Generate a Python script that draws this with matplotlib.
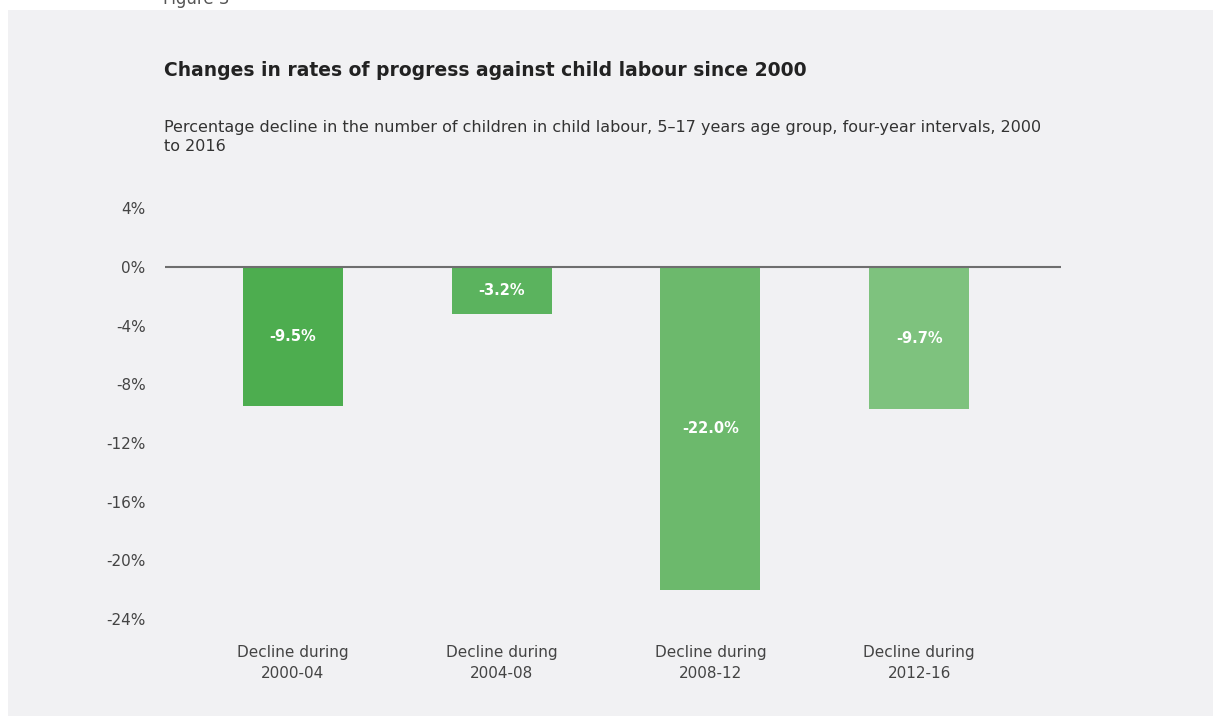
import matplotlib
matplotlib.use("Agg")
import matplotlib.pyplot as plt
from matplotlib.patches import Rectangle

categories = ["Decline during\n2000-04", "Decline during\n2004-08", "Decline during\n2008-12", "Decline during\n2012-16"]
values = [-9.5, -3.2, -22.0, -9.7]
value_labels = ["-9.5%", "-3.2%", "-22.0%", "-9.7%"]
yticks = [4, 0, -4, -8, -12, -16, -20, -24]
ytick_labels = ["4%", "0%", "-4%", "-8%", "-12%", "-16%", "-20%", "-24%"]
colors = ["#4dad4f", "#5bb35e", "#6cb96c", "#7ec27e"]

plt.rcParams['font.family'] = ['DejaVu Sans']

W, H = 1213, 716
fig = plt.figure(figsize=(W / 100, H / 100), dpi=100)
fig.patch.set_facecolor("white")
fig.patches.append(Rectangle((8 / W, 0), 1 - 8 / W, (H - 10) / H, transform=fig.transFigure,
                             facecolor="#f1f1f3", edgecolor="none", zorder=-10))

fig.text(163 / W, 1 + 1 / H, "Figure 3", fontsize=12, color="#555555", va="center", ha="left")
fig.text(164 / W, 1 - 70 / H, "Changes in rates of progress against child labour since 2000",
         fontsize=13.5, fontweight="bold", color="#222222", va="center", ha="left")
fig.text(164 / W, 1 - 137 / H,
         "Percentage decline in the number of children in child labour, 5\u201317 years age group, four-year intervals, 2000\nto 2016",
         fontsize=11.5, color="#333333", va="center", ha="left", linespacing=1.4)

ax = fig.add_axes([165 / W, 97 / H, (1061 - 165) / W, (619 - 208.3) / H])
ax.set_facecolor("none")
x = list(range(len(values)))
bars = ax.bar(x, values, width=0.479, color=colors, zorder=2)
ax.axhline(0, color="#6e6e6e", lw=1.5, zorder=3)
for xi, v, lab in zip(x, values, value_labels):
    ax.text(xi, v / 2, lab, ha="center", va="center", color="white", fontsize=10.5,
            fontweight="bold", zorder=4)

ax.set_xlim(-0.613, 3.68)
ax.set_ylim(-24, 4)
ax.set_yticks(yticks)
ax.set_yticklabels(ytick_labels)
ax.set_xticks(x)
ax.set_xticklabels(categories, linespacing=1.5)
ax.tick_params(axis="both", length=0, labelsize=11, labelcolor="#444444")
ax.tick_params(axis="y", pad=14)
ax.tick_params(axis="x", pad=19)
for s in ax.spines.values():
    s.set_visible(False)

fig.savefig("out.png", dpi=100)
